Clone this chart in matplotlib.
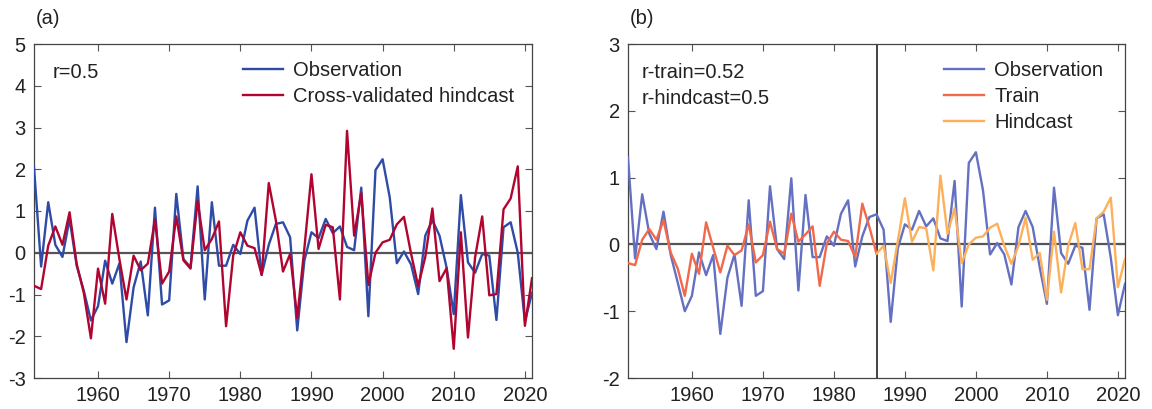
import numpy as np
import matplotlib
matplotlib.use('Agg')
import matplotlib.pyplot as plt

plt.rcParams['font.family'] = ['Liberation Sans', 'DejaVu Sans']
plt.rcParams['axes.unicode_minus'] = False

years = np.arange(1951, 2022)

# panel (a)
obs_a = [2.05, -0.33, 1.21, 0.19, -0.10, 0.81, -0.31, -0.91, -1.62, -1.28,
         -0.19, -0.74, -0.26, -2.14, -0.83, -0.21, -1.50, 1.08, -1.24, -1.14,
         1.41, -0.15, -0.35, 1.59, -1.12, 1.21, -0.31, -0.31, 0.19, -0.03,
         0.77, 1.08, -0.53, 0.19, 0.69, 0.73, 0.37, -1.86, -0.19, 0.49,
         0.35, 0.81, 0.47, 0.63, 0.14, 0.06, 1.56, -1.52, 1.98, 2.24,
         1.33, -0.25, 0.03, -0.28, -0.99, 0.41, 0.78, 0.41, -0.36, -1.47,
         1.38, -0.23, -0.48, -0.03, -0.07, -1.61, 0.61, 0.73, 0.0, -1.65,
         -0.96]
hind_a = [-0.79, -0.87, 0.17, 0.63, 0.19, 0.97, -0.27, -0.96, -2.05, -0.38,
          -1.22, 0.93, -0.15, -1.12, -0.07, -0.42, -0.26, 0.79, -0.74, -0.45,
          0.87, -0.18, -0.38, 1.24, 0.06, 0.33, 0.75, -1.76, -0.07, 0.49,
          0.17, 0.11, -0.53, 1.67, 0.77, -0.45, -0.03, -1.56, 0.10, 1.88,
          0.09, 0.67, 0.61, -1.12, 2.92, 0.41, 1.43, -0.77, 0.00, 0.25,
          0.31, 0.68, 0.86, -0.02, -0.80, -0.10, 1.06, -0.68, -0.37, -2.30,
          0.49, -2.03, -0.11, 0.87, -1.02, -0.99, 1.04, 1.30, 2.07, -1.75,
          -0.61]

# panel (b)
obs_b = [1.30, -0.21, 0.75, 0.16, -0.07, 0.49, -0.15, -0.57, -1.00, -0.77,
         -0.12, -0.46, -0.16, -1.34, -0.50, -0.15, -0.92, 0.66, -0.77, -0.70,
         0.87, -0.07, -0.22, 0.99, -0.69, 0.74, -0.19, -0.19, 0.12, -0.02,
         0.46, 0.66, -0.33, 0.12, 0.41, 0.45, 0.22, -1.16, -0.06, 0.30,
         0.22, 0.50, 0.27, 0.39, 0.09, 0.05, 0.95, -0.93, 1.22, 1.38,
         0.81, -0.15, 0.02, -0.15, -0.60, 0.26, 0.50, 0.26, -0.35, -0.89,
         0.85, -0.13, -0.29, -0.02, -0.05, -0.98, 0.39, 0.45, -0.20, -1.06,
         -0.59]
train_years = np.arange(1951, 1987)
train_b = [-0.28, -0.31, 0.07, 0.23, 0.07, 0.36, -0.12, -0.36, -0.77, -0.14,
           -0.44, 0.33, -0.05, -0.42, -0.02, -0.16, -0.09, 0.30, -0.27, -0.16,
           0.34, -0.07, -0.14, 0.46, 0.04, 0.15, 0.27, -0.62, 0.01, 0.19,
           0.07, 0.05, -0.19, 0.61, 0.26, -0.14]
hind_years = np.arange(1986, 2022)
hind_b = [-0.14, -0.02, -0.58, 0.05, 0.69, 0.04, 0.26, 0.24, -0.39, 1.03,
          0.16, 0.54, -0.28, 0.00, 0.10, 0.12, 0.25, 0.31, -0.02, -0.29,
          -0.02, 0.40, -0.23, -0.13, -0.83, 0.19, -0.72, -0.02, 0.32, -0.37,
          -0.37, 0.39, 0.49, 0.70, -0.64, -0.22]

W, H = 1152, 409
fig = plt.figure(figsize=(W / 100, H / 100), dpi=100)

txt = '#222222'
fs = 14.5
top, bot = 44, 378  # axes edges, pixels from top


def setup(ax, ylim, yticks):
    ax.set_xlim(1951, 2021)
    ax.set_ylim(*ylim)
    ax.set_xticks(np.arange(1960, 2030, 10))
    ax.set_yticks(yticks)
    ax.tick_params(direction='in', top=True, right=True, length=5, width=0.8,
                   labelsize=fs, labelcolor=txt, color='#555555', pad=6)
    for s in ax.spines.values():
        s.set_color('#444444')
        s.set_linewidth(0.9)
    ax.axhline(0, color='#555555', lw=1.6, zorder=1)


def fy(y):
    return (bot - y) / (bot - top)


# (a)
ax1 = fig.add_axes([34 / W, (H - bot) / H, 498 / W, (bot - top) / H])
setup(ax1, (-3, 5), np.arange(-3, 6))
ax1.plot(years, obs_a, color='#2E4BA6', lw=1.7, label='Observation', zorder=3)
ax1.plot(years, hind_a, color='#B10530', lw=1.7, label='Cross-validated hindcast', zorder=3)
ax1.legend(loc='upper left', bbox_to_anchor=((243 - 34) / 498, fy(61)),
           frameon=False, fontsize=fs, borderpad=0, borderaxespad=0,
           handlelength=2.0, handletextpad=0.5, labelspacing=0.36,
           labelcolor=txt)
ax1.text((53 - 34) / 498, fy(73), 'r=0.5', transform=ax1.transAxes,
         fontsize=fs, color=txt, va='center')
fig.text(36 / W, 1 - 18 / H, '(a)', fontsize=fs, color=txt, va='center')

# (b)
ax2 = fig.add_axes([628 / W, (H - bot) / H, 497 / W, (bot - top) / H])
setup(ax2, (-2, 3), np.arange(-2, 4))
ax2.axvline(1986, color='#333333', lw=1.3, zorder=2)
ax2.plot(years, obs_b, color='#6470C2', lw=1.7, label='Observation', zorder=3)
ax2.plot(train_years, train_b, color='#F2684A', lw=1.7, label='Train', zorder=4)
ax2.plot(hind_years, hind_b, color='#FDB05C', lw=1.7, label='Hindcast', zorder=4)
ax2.legend(loc='upper left', bbox_to_anchor=((944 - 628) / 497, fy(61)),
           frameon=False, fontsize=fs, borderpad=0, borderaxespad=0,
           handlelength=2.0, handletextpad=0.5, labelspacing=0.36,
           labelcolor=txt)
ax2.text((642 - 628) / 497, fy(73), 'r-train=0.52', transform=ax2.transAxes,
         fontsize=fs, color=txt, va='center')
ax2.text((642 - 628) / 497, fy(98), 'r-hindcast=0.5', transform=ax2.transAxes,
         fontsize=fs, color=txt, va='center')
fig.text(630 / W, 1 - 18 / H, '(b)', fontsize=fs, color=txt, va='center')

fig.savefig('out.png', dpi=100)
